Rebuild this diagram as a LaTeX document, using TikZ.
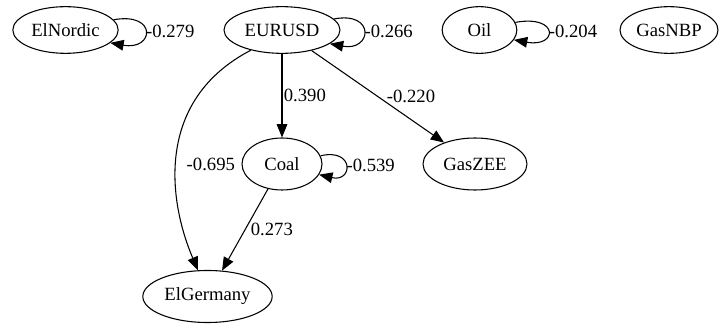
\documentclass[tikz,border=0pt]{standalone}
\usepackage{fontspec}
\setmainfont{Liberation Serif}
\usepackage{tikz}
\usetikzlibrary{arrows.meta, shapes.geometric}

\begin{document}
\begin{tikzpicture}[x=0.75pt, y=-0.75pt,
    var/.style={ellipse, draw, line width=0.8pt, inner sep=0pt,
                minimum height=39pt, font=\fontsize{14}{16}\selectfont},
    arr/.style={-{Triangle[length=10pt, width=8pt]}, line width=0.8pt},
    lbl/.style={font=\fontsize{14}{16}\selectfont, inner sep=0pt}]

    \useasboundingbox (0,0) rectangle (719,324);

    \node[var, minimum width=79pt, minimum height=35pt] (nor) at (65.5,30) {ElNordic};
    \node[var, minimum width=87pt, minimum height=35pt] (eur) at (282,30) {EURUSD};
    \node[var, minimum width=56pt, minimum height=35pt] (oil) at (479.5,30) {Oil};
    \node[var, minimum width=73.5pt, minimum height=35pt] (nbp) at (669,30) {GasNBP};
    \node[var, minimum width=60pt] (coal) at (282,164) {Coal};
    \node[var, minimum width=78pt] (zee) at (475,164) {GasZEE};
    \node[var, minimum width=97pt] (ger) at (207.5,296.5) {ElGermany};

    \draw[arr] (eur) -- (coal) node[lbl, pos=.5, anchor=west, xshift=1pt] {0.390};
    \draw[arr] (eur) -- (zee) node[lbl, pos=.5, anchor=west, xshift=6.4pt] {-0.220};
    \draw[arr] (coal) -- (ger) node[lbl, pos=.5, anchor=west, xshift=4pt] {0.273};
    \draw[arr] (eur.-147) .. controls (155,100) and (168,200) .. (ger.110)
        node[lbl, pos=.55, anchor=west, xshift=7.5pt] {-0.695};

    % self loops
    \foreach \n/\d/\w in {nor/44/-0.279, eur/42/-0.266, oil/44/-0.204, coal/34/-0.539}
        \draw[arr] (\n.12) .. controls +(\d,-8) and +(\d,8) .. (\n.-16)
            node[lbl, pos=.5, anchor=west, xshift=0.5pt] {\w};
\end{tikzpicture}
\end{document}
